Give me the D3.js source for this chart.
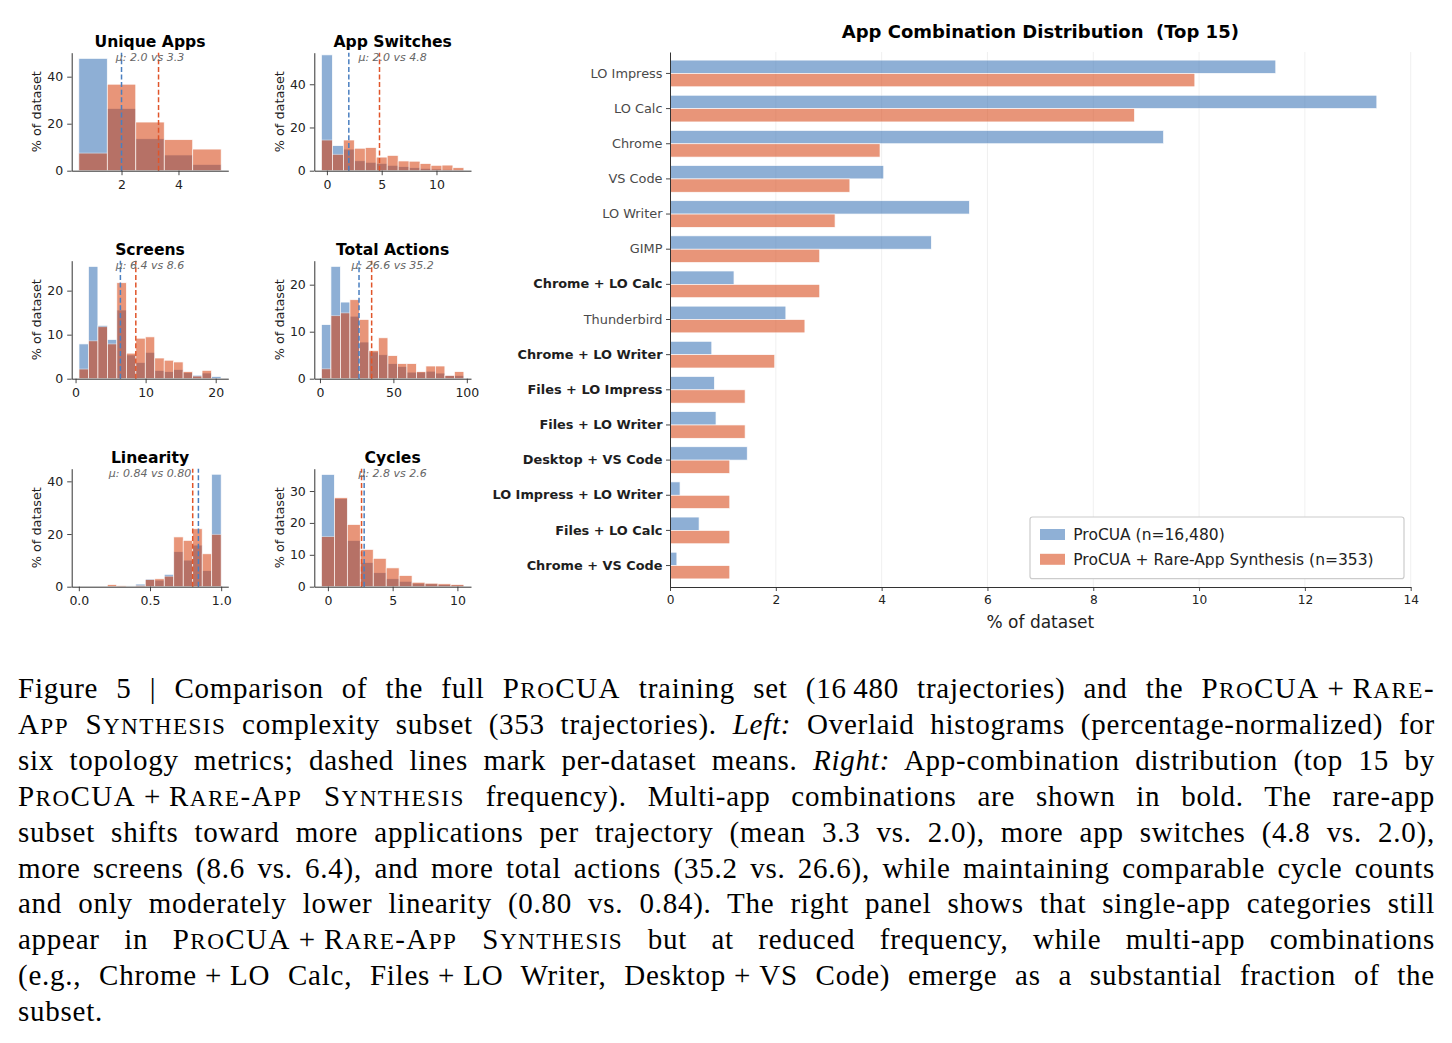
<!DOCTYPE html>
<html>
<head>
<meta charset="utf-8">
<script src="https://cdn.jsdelivr.net/npm/d3@7"></script>
<style>
  body { margin: 0; background: white; }
  svg text { font-family: "DejaVu Sans", sans-serif; }
  svg text.caption { font-family: "Liberation Serif", "Times New Roman", serif; }
</style>
</head>
<body>
<div id="figure"></div>
<script>

// Histogram bins (edges) and percentage of dataset per bin, ProCUA (base) vs Rare-App subset (rare)
var uniqueAppsEdges = [0.5, 1.5, 2.5, 3.5, 4.5, 5.5];
var uniqueAppsBase = [47.8, 26.5, 13.6, 6.7, 2.7];
var uniqueAppsRare = [7.5, 36.8, 20.7, 13.2, 9.2];

var appSwitchesEdges = [-0.5, 0.5, 1.5, 2.5, 3.5, 4.5, 5.5, 6.5, 7.5, 8.5, 9.5, 10.5, 11.5, 12.5];
var appSwitchesBase = [53.6, 11.6, 10.0, 4.6, 3.9, 3.4, 2.5, 1.9, 1.4, 1.1, 0.8, 0.6, 0.4];
var appSwitchesRare = [14.2, 7.6, 14.2, 10.4, 10.7, 6.3, 7.1, 4.5, 4.4, 3.3, 2.5, 2.6, 1.4];

var screensEdges = [0.49, 1.84, 3.19, 4.54, 5.89, 7.25, 8.60, 9.95, 11.30, 12.65, 14.00, 15.35, 16.70, 18.05, 19.40, 20.76];
var screensBase = [7.9, 25.5, 12.1, 8.9, 15.6, 5.4, 3.7, 6.0, 1.9, 1.6, 2.1, 1.4, 0.8, 1.3, 0.5];
var screensRare = [2.2, 8.6, 11.8, 7.9, 21.8, 5.8, 9.2, 9.5, 4.7, 4.2, 3.8, 1.6, 0.6, 1.9, 0];

var actionsEdges = [1, 7.47, 13.93, 20.4, 26.87, 33.33, 39.8, 46.27, 52.73, 59.2, 65.67, 72.13, 78.6, 85.07, 91.53, 98];
var actionsBase = [11.5, 23.9, 16.3, 13.3, 7.8, 5.7, 5.1, 3.2, 2.6, 1.4, 1.4, 1.6, 1.2, 0.7, 0.7];
var actionsRare = [2.1, 13.4, 14.0, 16.8, 12.6, 6.0, 8.7, 4.9, 3.2, 3.2, 1.5, 2.7, 2.7, 0.7, 1.5];

var linearityEdges = [0, 0.0667, 0.1333, 0.2, 0.2667, 0.3333, 0.4, 0.4667, 0.5333, 0.6, 0.6667, 0.7333, 0.8, 0.8667, 0.9333, 1.0];
var linearityBase = [0, 0, 0, 0.2, 0.1, 0.3, 1.0, 2.9, 2.5, 4.7, 13.3, 10.1, 15.8, 6.1, 42.7];
var linearityRare = [0, 0, 0, 0.8, 0.4, 0.1, 0.5, 2.7, 3.0, 4.0, 18.9, 17.6, 22.0, 12.5, 19.9];

var cyclesEdges = [-0.5, 0.5, 1.5, 2.5, 3.5, 4.5, 5.5, 6.5, 7.5, 8.5, 9.5, 10.5];
var cyclesBase = [35.2, 27.6, 14.5, 7.6, 4.4, 2.5, 1.7, 1.1, 0.9, 0.7, 0.5];
var cyclesRare = [15.7, 27.9, 19.5, 11.7, 8.9, 5.9, 3.5, 1.4, 1.1, 0.9, 0.7];

// Panel titles, means and tick labels
var histTitles = ["Unique Apps", "App Switches", "Screens", "Total Actions", "Linearity", "Cycles"];
var histMeansBase = [2.0, 2.0, 6.4, 26.6, 0.84, 2.8];
var histMeansRare = [3.3, 4.8, 8.6, 35.2, 0.80, 2.6];
var histXTicks = [[2, 4], [0, 5, 10], [0, 10, 20], [0, 50, 100], [0, 0.5, 1.0], [0, 5, 10]];
var histYTicks = [[0, 20, 40], [0, 20, 40], [0, 10, 20], [0, 10, 20], [0, 20, 40], [0, 10, 20, 30]];

// App combination distribution (top 15), % of dataset
var appCombos = ["LO Impress", "LO Calc", "Chrome", "VS Code", "LO Writer", "GIMP",
                 "Chrome + LO Calc", "Thunderbird", "Chrome + LO Writer", "Files + LO Impress",
                 "Files + LO Writer", "Desktop + VS Code", "LO Impress + LO Writer",
                 "Files + LO Calc", "Chrome + VS Code"];
var comboBase = [11.45, 13.36, 9.33, 4.04, 5.66, 4.94, 1.21, 2.19, 0.79, 0.84, 0.87, 1.46, 0.19, 0.55, 0.13];
var comboRare = [9.92, 8.78, 3.97, 3.40, 3.12, 2.83, 2.83, 2.55, 1.98, 1.42, 1.42, 1.13, 1.13, 1.13, 1.13];
var comboXTicks = [0, 2, 4, 6, 8, 10, 12, 14];
var seriesNames = ["ProCUA (n=16,480)", "ProCUA + Rare-App Synthesis (n=353)"];

// Caption lines ({..} = small caps, _.._ = italic)
var captionLines = [
  "Figure 5 | Comparison of the full {ProCUA} training set (16\u2009480 trajectories) and the {ProCUA}\u2005+\u2005{Rare-}",
  "{App Synthesis} complexity subset (353 trajectories). _Left:_ Overlaid histograms (percentage-normalized) for",
  "six topology metrics; dashed lines mark per-dataset means. _Right:_ App-combination distribution (top 15 by",
  "{ProCUA}\u2005+\u2005{Rare-App Synthesis} frequency). Multi-app combinations are shown in bold. The rare-app",
  "subset shifts toward more applications per trajectory (mean 3.3 vs. 2.0), more app switches (4.8 vs. 2.0),",
  "more screens (8.6 vs. 6.4), and more total actions (35.2 vs. 26.6), while maintaining comparable cycle counts",
  "and only moderately lower linearity (0.80 vs. 0.84). The right panel shows that single-app categories still",
  "appear in {ProCUA}\u2005+\u2005{Rare-App Synthesis} but at reduced frequency, while multi-app combinations",
  "(e.g., Chrome\u2005+\u2005LO Calc, Files\u2005+\u2005LO Writer, Desktop\u2005+\u2005VS Code) emerge as a substantial fraction of the",
  "subset."
];

// Colours
var blueColor = "#336fb4";
var orangeColor = "#d7400d";
var blueLine = "#4a7fc0";
var orangeLine = "#e0552a";
var barAlpha = 0.55;

window.onload = function() {

  var svg = d3.select("#figure")
              .append("svg")
                .attr("width", 1452)
                .attr("height", 1043)
                .style("background", "white");

  var panels = [
    {edges: uniqueAppsEdges, base: uniqueAppsBase, rare: uniqueAppsRare, xlim: [0.25, 5.75], ymax: 50.2, fmt: ".1f", tfmt: "d"},
    {edges: appSwitchesEdges, base: appSwitchesBase, rare: appSwitchesRare, xlim: [-1.15, 13.15], ymax: 54.6, fmt: ".1f", tfmt: "d"},
    {edges: screensEdges, base: screensBase, rare: screensRare, xlim: [-0.55, 21.8], ymax: 26.8, fmt: ".1f", tfmt: "d"},
    {edges: actionsEdges, base: actionsBase, rare: actionsRare, xlim: [-3.85, 102.85], ymax: 25.1, fmt: ".1f", tfmt: "d"},
    {edges: linearityEdges, base: linearityBase, rare: linearityRare, xlim: [-0.05, 1.05], ymax: 44.8, fmt: ".2f", tfmt: ".1f"},
    {edges: cyclesEdges, base: cyclesBase, rare: cyclesRare, xlim: [-1.05, 11.05], ymax: 37, fmt: ".1f", tfmt: "d"}
  ];

  // Panel grid (pixel boxes of the axes)
  var cols = [{left: 71.7, right: 228.3}, {left: 314.3, right: 471}];
  var rows = [{top: 52.7, bottom: 170.7}, {top: 260.7, bottom: 378.7}, {top: 468.7, bottom: 586.7}];

  panels.forEach(function(p, i) {
    var box = {left: cols[i % 2].left, right: cols[i % 2].right,
               top: rows[Math.floor(i / 2)].top, bottom: rows[Math.floor(i / 2)].bottom};
    draw_histogram(svg, p, i, box);
  });

  draw_barchart(svg);
  draw_caption(svg);
};


function style_axis(g, fontSize) {
  g.select(".domain").attr("stroke", "#333").attr("stroke-width", 1);
  g.selectAll(".tick line").attr("stroke", "#333").attr("stroke-width", 0.9);
  g.selectAll(".tick text")
    .attr("fill", "#222")
    .style("font-size", fontSize + "px")
    .style("font-family", "DejaVu Sans");
}


function draw_histogram(svg, p, i, box) {

  var xScale = d3.scaleLinear().domain(p.xlim).range([box.left, box.right]);
  var yScale = d3.scaleLinear().domain([0, p.ymax]).range([box.bottom, box.top]);

  var g = svg.append("g").attr("class", "hist");

  // Bars: base first, rare overlaid on top
  [[p.base, blueColor], [p.rare, orangeColor]].forEach(function(series) {
    g.append("g")
      .selectAll("rect")
      .data(series[0])
      .enter()
      .append("rect")
        .attr("x", function(d, j) { return xScale(p.edges[j]); })
        .attr("y", function(d) { return yScale(d); })
        .attr("width", function(d, j) { return xScale(p.edges[j + 1]) - xScale(p.edges[j]); })
        .attr("height", function(d) { return yScale(0) - yScale(d); })
        .attr("fill", series[1])
        .attr("stroke", "white")
        .attr("stroke-width", 0.7)
        .attr("opacity", function(d) { return d > 0 ? barAlpha : 0; });
  });

  // Dashed mean lines
  [[histMeansBase[i], blueLine], [histMeansRare[i], orangeLine]].forEach(function(m) {
    g.append("line")
      .attr("x1", xScale(m[0]))
      .attr("x2", xScale(m[0]))
      .attr("y1", box.bottom)
      .attr("y2", box.top)
      .attr("stroke", m[1])
      .attr("stroke-width", 1.5)
      .attr("stroke-dasharray", "5,2.6");
  });

  // Axes
  var xAxis = d3.axisBottom(xScale)
                .tickValues(histXTicks[i])
                .tickFormat(d3.format(p.tfmt))
                .tickSize(4.5)
                .tickSizeOuter(0)
                .tickPadding(4.6);
  g.append("g")
    .attr("transform", "translate(0," + box.bottom + ")")
    .call(xAxis)
    .call(function(a) { style_axis(a, 12.5); });

  var yAxis = d3.axisLeft(yScale)
                .tickValues(histYTicks[i])
                .tickSize(4.5)
                .tickSizeOuter(0)
                .tickPadding(4);
  g.append("g")
    .attr("transform", "translate(" + box.left + ",0)")
    .call(yAxis)
    .call(function(a) { style_axis(a, 12.5); });

  // Y label
  g.append("text")
    .attr("transform", "translate(" + (box.left - 30.4) + "," + ((box.top + box.bottom) / 2) + ") rotate(-90)")
    .style("text-anchor", "middle")
    .style("font-size", "12.8px")
    .attr("fill", "#222")
    .text("% of dataset");

  var cx = (box.left + box.right) / 2;

  // Title and mean subtitle
  g.append("text")
    .attr("x", cx)
    .attr("y", box.top - 5.4)
    .style("text-anchor", "middle")
    .style("font-size", "15.6px")
    .style("font-weight", "bold")
    .attr("fill", "#000")
    .text(histTitles[i]);

  var f = d3.format(p.fmt);
  g.append("text")
    .attr("x", cx)
    .attr("y", box.top + 7.8)
    .style("text-anchor", "middle")
    .style("font-size", "11px")
    .style("font-style", "italic")
    .attr("fill", "#666")
    .text("\u03bc: " + f(histMeansBase[i]) + " vs " + f(histMeansRare[i]));
}


function draw_barchart(svg) {

  var box = {left: 670, right: 1410.7, top: 52, bottom: 587};

  var xScale = d3.scaleLinear().domain([0, 14]).range([box.left, box.right]);
  var yScale = d3.scaleBand()
                  .domain(appCombos)
                  .range([box.top, box.bottom])
                  .paddingInner(0)
                  .paddingOuter(0.11);
  var barH = yScale.bandwidth() * 0.38;

  var g = svg.append("g").attr("class", "bars");

  // Light vertical gridlines
  g.append("g")
    .selectAll("line")
    .data(comboXTicks.slice(1))
    .enter()
    .append("line")
      .attr("x1", function(d) { return xScale(d); })
      .attr("x2", function(d) { return xScale(d); })
      .attr("y1", box.top)
      .attr("y2", box.bottom)
      .attr("stroke", "#ececec")
      .attr("stroke-width", 0.8);

  // Bars (base above, rare below each tick)
  [[comboBase, blueColor, -1], [comboRare, orangeColor, 0]].forEach(function(series) {
    g.append("g")
      .selectAll("rect")
      .data(series[0])
      .enter()
      .append("rect")
        .attr("x", xScale(0))
        .attr("y", function(d, j) { return yScale(appCombos[j]) + yScale.bandwidth() / 2 + series[2] * barH; })
        .attr("width", function(d) { return xScale(d) - xScale(0); })
        .attr("height", barH)
        .attr("fill", series[1])
        .attr("stroke", "white")
        .attr("stroke-width", 0.7)
        .attr("opacity", barAlpha);
  });

  // Axes
  var xAxis = d3.axisBottom(xScale)
                .tickValues(comboXTicks)
                .tickFormat(d3.format("d"))
                .tickSize(4)
                .tickSizeOuter(0)
                .tickPadding(4.7);
  g.append("g")
    .attr("transform", "translate(0," + box.bottom + ")")
    .call(xAxis)
    .call(function(a) { style_axis(a, 12.2); });

  var yAxis = d3.axisLeft(yScale)
                .tickSize(4)
                .tickSizeOuter(0)
                .tickPadding(3.5);
  var yg = g.append("g")
    .attr("transform", "translate(" + box.left + ",0)")
    .call(yAxis)
    .call(function(a) { style_axis(a, 12.9); });

  // Multi-app combinations in bold
  yg.selectAll(".tick text")
    .style("font-weight", function(d) { return d.indexOf(" + ") >= 0 ? "bold" : "normal"; })
    .attr("fill", function(d) { return d.indexOf(" + ") >= 0 ? "#1e1e1e" : "#4a4a4a"; });

  // Title and x label
  g.append("text")
    .attr("x", (box.left + box.right) / 2)
    .attr("y", 38)
    .style("text-anchor", "middle")
    .style("font-size", "18px")
    .style("font-weight", "bold")
    .style("white-space", "pre")
    .attr("fill", "#000")
    .text("App Combination Distribution  (Top 15)");

  g.append("text")
    .attr("x", (box.left + box.right) / 2)
    .attr("y", 627.5)
    .style("text-anchor", "middle")
    .style("font-size", "17px")
    .attr("fill", "#222")
    .text("% of dataset");

  // Legend
  var legend = g.append("g").attr("class", "legend");
  legend.append("rect")
    .attr("x", 1030)
    .attr("y", 517)
    .attr("width", 374)
    .attr("height", 61.7)
    .attr("rx", 2.5)
    .attr("fill", "white")
    .attr("stroke", "#cccccc")
    .attr("stroke-width", 1.2);

  [blueColor, orangeColor].forEach(function(c, k) {
    legend.append("rect")
      .attr("x", 1040)
      .attr("y", 529 + k * 24.8)
      .attr("width", 25)
      .attr("height", 11)
      .attr("fill", c)
      .attr("opacity", barAlpha);
    legend.append("text")
      .attr("x", 1073.3)
      .attr("y", 540 + k * 24.8)
      .style("font-size", "15.5px")
      .attr("fill", "#222")
      .text(seriesNames[k]);
  });
}


function draw_caption(svg) {

  var left = 18;
  var width = 1417;
  var fontSize = 29;

  captionLines.forEach(function(line, i) {
    var text = svg.append("text")
                  .attr("class", "caption")
                  .attr("x", left)
                  .attr("y", 698 + i * 35.9)
                  .style("font-size", fontSize + "px")
                  .style("letter-spacing", "0.75px")
                  .attr("fill", "#000");

    // Split the line into plain, small caps and italic parts
    line.split(/(\{[^}]*\}|_[^_]*_)/).forEach(function(part) {
      if (part === "") return;
      if (part[0] === "{") {
        // Small caps by hand: lower case letters as smaller capitals
        part.slice(1, -1).split(/([a-z]+)/).forEach(function(run) {
          if (run === "") return;
          var span = text.append("tspan").style("letter-spacing", "1.4px");
          if (/^[a-z]+$/.test(run)) {
            span.text(run.toUpperCase()).style("font-size", (fontSize * 0.8) + "px");
          } else {
            span.text(run);
          }
        });
      } else if (part[0] === "_") {
        text.append("tspan").text(part.slice(1, -1)).style("font-style", "italic");
      } else {
        text.append("tspan").text(part);
      }
    });

    // Justify every line except the last one through word spacing
    if (i < captionLines.length - 1) {
      var natural = text.node().getComputedTextLength();
      var spaces = (text.text().match(/ /g) || []).length;
      text.attr("word-spacing", Math.max(0, (width - natural) / spaces));
    }
  });
}

</script>
</body>
</html>
